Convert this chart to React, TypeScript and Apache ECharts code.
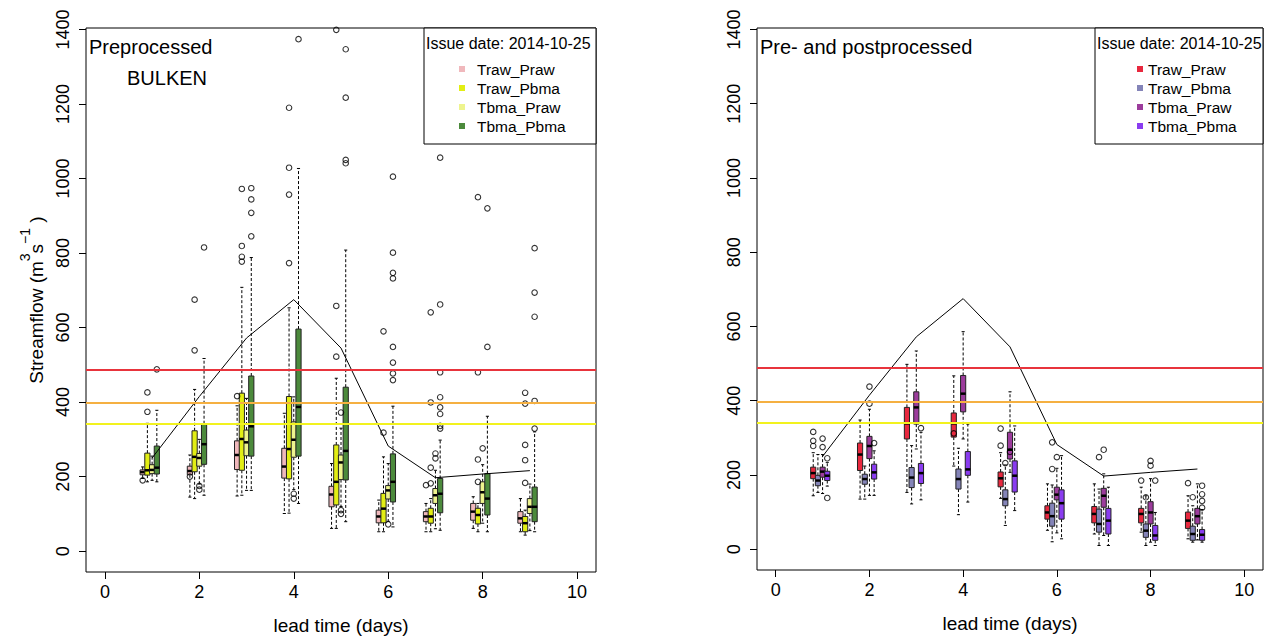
import React, { useEffect, useRef } from "react";
import * as echarts from "echarts";

// ---------- DATA ----------
const DAYS = [1, 2, 3, 4, 5, 6, 7, 8, 9];
const OFFSETS = [-0.2, -0.1, 0, 0.1];
const X_TICKS = [0, 2, 4, 6, 8, 10];
const Y_TICKS = [0, 200, 400, 600, 800, 1000, 1200, 1400];
const SERIES_NAMES = ["Traw_Praw", "Traw_Pbma", "Tbma_Praw", "Tbma_Pbma"];
const OBS = [250, 415, 572, 675, 545, 282, 197, 207, 216];
const THRESHOLDS = [488, 398, 341];

// [lower whisker, Q1, median, Q3, upper whisker] per lead day
const PRE_TRAW_PRAW = [
  [195, 205, 212, 218, 226],
  [145, 205, 215, 228, 258],
  [148, 219, 258, 296, 390],
  [101, 196, 227, 276, 370],
  [61, 119, 152, 174, 235],
  [52, 76, 93, 110, 137],
  [52, 79, 93, 106, 128],
  [61, 83, 106, 128, 146],
  [52, 75, 88, 106, 141],
];
const PRE_TRAW_PBMA = [
  [186, 204, 217, 263, 343],
  [141, 213, 253, 323, 434],
  [150, 217, 301, 424, 708],
  [102, 194, 274, 415, 653],
  [61, 124, 186, 285, 464],
  [52, 76, 114, 155, 253],
  [52, 75, 93, 115, 141],
  [52, 73, 97, 115, 128],
  [43, 52, 75, 93, 110],
];
const PRE_TBMA_PRAW = [
  [190, 208, 218, 232, 255],
  [180, 228, 250, 262, 300],
  [163, 256, 292, 325, 410],
  [165, 252, 299, 347, 414],
  [120, 192, 238, 258, 330],
  [80, 140, 163, 176, 235],
  [60, 128, 150, 168, 217],
  [75, 128, 158, 186, 232],
  [55, 101, 119, 141, 180],
];
const PRE_TBMA_PBMA = [
  [186, 207, 224, 282, 378],
  [150, 233, 287, 342, 517],
  [163, 255, 335, 470, 788],
  [128, 255, 387, 596, 1027],
  [79, 191, 269, 440, 808],
  [65, 132, 186, 261, 389],
  [56, 103, 154, 195, 298],
  [52, 97, 141, 208, 362],
  [52, 79, 119, 172, 320],
];
// outliers per lead day
const PRE_OUT_TRAW_PRAW = [[190], [200], [416], [], [], [], [177], [], []];
const PRE_OUT_TRAW_PBMA = [
  [374, 426],
  [539, 675],
  [777, 790, 819, 972],
  [773, 957, 1029, 1190],
  [522, 658, 1399],
  [318, 590],
  [182, 224, 399, 641],
  [186, 246, 480, 950],
  [183, 244, 285, 396, 425],
];
const PRE_OUT_TBMA_PRAW = [[], [175, 165], [], [141, 154], [372, 110, 100], [72], [249, 262], [276], []];
const PRE_OUT_TBMA_PBMA = [
  [488],
  [815],
  [845, 908, 944, 974],
  [1374],
  [1041, 1050, 1217, 1347],
  [459, 477, 506, 548, 732, 747, 801, 1005],
  [329, 336, 368, 386, 413, 480, 662, 1056],
  [548, 920],
  [329, 403, 629, 694, 813],
];

const POST_TRAW_PRAW = [
  [144, 190, 205, 221, 260],
  [135, 212, 255, 286, 348],
  [153, 297, 339, 382, 498],
  [224, 302, 339, 367, 467],
  [137, 168, 191, 208, 260],
  [51, 81, 99, 117, 176],
  [41, 71, 95, 115, 176],
  [46, 71, 95, 110, 167],
  [28, 56, 77, 100, 144],
];
const POST_TRAW_PBMA = [
  [153, 171, 185, 199, 255],
  [135, 175, 189, 202, 224],
  [122, 166, 193, 220, 279],
  [93, 162, 189, 216, 272],
  [64, 117, 135, 160, 227],
  [20, 62, 89, 124, 173],
  [10, 46, 68, 108, 162],
  [10, 32, 50, 68, 144],
  [19, 24, 41, 62, 117],
];
const POST_TBMA_PRAW = [
  [150, 194, 209, 221, 255],
  [145, 244, 278, 304, 377],
  [270, 337, 382, 424, 534],
  [297, 370, 419, 468, 586],
  [207, 243, 268, 315, 424],
  [44, 133, 147, 167, 218],
  [37, 113, 144, 164, 203],
  [19, 68, 99, 128, 190],
  [25, 68, 89, 110, 176],
];
const POST_TBMA_PBMA = [
  [170, 185, 198, 210, 234],
  [145, 189, 207, 229, 265],
  [133, 177, 205, 231, 315],
  [127, 199, 215, 263, 337],
  [104, 154, 198, 238, 332],
  [28, 81, 124, 160, 252],
  [10, 41, 77, 110, 167],
  [10, 24, 37, 64, 99],
  [19, 24, 39, 53, 107],
];
const POST_OUT_TRAW_PRAW = [[278, 292, 316], [], [], [312], [279, 325], [], [], [185], [178]];
const POST_OUT_TRAW_PBMA = [[], [], [], [], [232], [216, 288], [248], [140], [140]];
const POST_OUT_TBMA_PRAW = [[275, 298], [392, 438], [], [], [262], [248], [268], [225, 238], []];
const POST_OUT_TBMA_PBMA = [[138, 245], [286], [326], [], [], [], [], [185], [112, 130, 148, 171]];

// ---------- STYLE ----------
const FONT = "'Liberation Sans', Arial, Helvetica, sans-serif";
const PRE_COLORS = ["#f0b8bc", "#e2ee14", "#eef48e", "#4c8a3c"];
const POST_COLORS = ["#e8283e", "#8484b8", "#9c3c9c", "#8a3cf0"];
const THRESH_COLORS = ["#e8343c", "#f5b041", "#f2f21e"];

function boxSeries(color: string, stats: number[][], offset: number, axis: number) {
  return {
    type: "custom",
    xAxisIndex: axis,
    yAxisIndex: axis,
    data: stats.map((s, i) => [DAYS[i] + offset, ...s]),
    encode: { x: 0, y: [1, 2, 3, 4, 5] },
    z: 2,
    renderItem: (params: any, api: any) => {
      const x = api.value(0);
      const pLw = api.coord([x, api.value(1)]);
      const cx = pLw[0];
      const yLw = pLw[1];
      const yQ1 = api.coord([x, api.value(2)])[1];
      const yMed = api.coord([x, api.value(3)])[1];
      const yQ3 = api.coord([x, api.value(4)])[1];
      const yUw = api.coord([x, api.value(5)])[1];
      const w = api.size([0.1, 0])[0] * 1.1;
      const hw = w / 2;
      const cap = hw * 0.6;
      const dashed = { stroke: "#000", lineWidth: 1, lineDash: [3, 2] };
      const solid = { stroke: "#000", lineWidth: 1 };
      return {
        type: "group",
        children: [
          { type: "line", shape: { x1: cx, y1: yQ3, x2: cx, y2: yUw }, style: dashed },
          { type: "line", shape: { x1: cx, y1: yQ1, x2: cx, y2: yLw }, style: dashed },
          { type: "line", shape: { x1: cx - cap, y1: yUw, x2: cx + cap, y2: yUw }, style: solid },
          { type: "line", shape: { x1: cx - cap, y1: yLw, x2: cx + cap, y2: yLw }, style: solid },
          {
            type: "rect",
            shape: { x: cx - hw, y: yQ3, width: w, height: yQ1 - yQ3 },
            style: { fill: color, stroke: "#222", lineWidth: 1 },
          },
          {
            type: "line",
            shape: { x1: cx - hw, y1: yMed, x2: cx + hw, y2: yMed },
            style: { stroke: "#000", lineWidth: 2.5 },
          },
        ],
      };
    },
  };
}

function outlierSeries(out: number[][], offset: number, axis: number) {
  const data: number[][] = [];
  out.forEach((vals, i) => vals.forEach((v) => data.push([DAYS[i] + offset, v])));
  return {
    type: "scatter",
    xAxisIndex: axis,
    yAxisIndex: axis,
    data,
    symbol: "circle",
    symbolSize: 5.5,
    itemStyle: { color: "rgba(0,0,0,0)", borderColor: "#000", borderWidth: 1.1 },
    z: 3,
  };
}

function obsSeries(axis: number) {
  return {
    type: "line",
    xAxisIndex: axis,
    yAxisIndex: axis,
    data: DAYS.map((d, i) => [d, OBS[i]]),
    symbol: "none",
    lineStyle: { color: "#000", width: 1 },
    z: 4,
    markLine: {
      silent: true,
      symbol: ["none", "none"],
      label: { show: false },
      data: THRESHOLDS.map((v, i) => ({
        yAxis: v,
        lineStyle: { color: THRESH_COLORS[i], width: 2, type: "solid" },
      })),
    },
  };
}

function xAxis(grid: number) {
  return {
    gridIndex: grid,
    type: "value",
    min: -0.4,
    max: 10.4,
    splitLine: { show: false },
    axisLine: { show: false, onZero: false },
    axisTick: { show: true, length: 7, customValues: X_TICKS, lineStyle: { color: "#000" } },
    axisLabel: {
      customValues: X_TICKS,
      fontSize: 18,
      color: "#000",
      fontFamily: FONT,
      margin: 11,
      formatter: (v: number) => String(v),
    },
    name: "lead time (days)",
    nameLocation: "middle",
    nameGap: 44,
    nameTextStyle: { fontSize: 19, color: "#000", fontFamily: FONT },
  };
}

function yAxis(grid: number) {
  return {
    gridIndex: grid,
    type: "value",
    min: -56,
    max: 1404,
    splitLine: { show: false },
    axisLine: { show: false, onZero: false },
    axisTick: { show: true, length: 7, customValues: Y_TICKS, lineStyle: { color: "#000" } },
    axisLabel: {
      customValues: Y_TICKS,
      rotate: 90,
      fontSize: 18,
      color: "#000",
      fontFamily: FONT,
      margin: 14,
      formatter: (v: number) => String(v),
    },
  };
}

function legendGraphic(x: number, y: number, w: number, h: number, colors: string[], markX: number, textX: number) {
  const items: any[] = [
    { type: "rect", shape: { x, y, width: w, height: h }, style: { fill: "#fff", stroke: "#000", lineWidth: 1 }, z: 10 },
    {
      type: "text",
      x: x + 2,
      y: y + 15,
      style: { text: "Issue date: 2014-10-25", fontSize: 16, fontFamily: FONT, fill: "#000", align: "left", verticalAlign: "middle" },
      z: 11,
    },
  ];
  const rows = [41, 60, 79, 98];
  SERIES_NAMES.forEach((n, i) => {
    items.push({
      type: "rect",
      shape: { x: markX - 3, y: y + rows[i] - 3, width: 6, height: 6 },
      style: { fill: colors[i] },
      z: 11,
    });
    items.push({
      type: "text",
      x: textX,
      y: y + rows[i],
      style: { text: n, fontSize: 15.5, fontFamily: FONT, fill: "#000", align: "left", verticalAlign: "middle" },
      z: 11,
    });
  });
  return items;
}

export default function App() {
  const ref = useRef<HTMLDivElement>(null);
  useEffect(() => {
    if (!ref.current) return;
    const chart = echarts.init(ref.current, undefined, { renderer: "svg" });
    const preStats = [PRE_TRAW_PRAW, PRE_TRAW_PBMA, PRE_TBMA_PRAW, PRE_TBMA_PBMA];
    const preOut = [PRE_OUT_TRAW_PRAW, PRE_OUT_TRAW_PBMA, PRE_OUT_TBMA_PRAW, PRE_OUT_TBMA_PBMA];
    const postStats = [POST_TRAW_PRAW, POST_TRAW_PBMA, POST_TBMA_PRAW, POST_TBMA_PBMA];
    const postOut = [POST_OUT_TRAW_PRAW, POST_OUT_TRAW_PBMA, POST_OUT_TBMA_PRAW, POST_OUT_TBMA_PBMA];
    const series: any[] = [];
    [0, 1].forEach((axis) => {
      series.push(obsSeries(axis));
      const stats = axis === 0 ? preStats : postStats;
      const outs = axis === 0 ? preOut : postOut;
      const colors = axis === 0 ? PRE_COLORS : POST_COLORS;
      stats.forEach((s, k) => {
        series.push(boxSeries(colors[k], s, OFFSETS[k], axis));
        series.push(outlierSeries(outs[k], OFFSETS[k], axis));
      });
    });
    const option: any = {
      animation: false,
      backgroundColor: "#fff",
      textStyle: { fontFamily: FONT },
      grid: [
        { left: 86, top: 28, width: 510, height: 544, show: true, borderColor: "#000", borderWidth: 1, backgroundColor: "transparent" },
        { left: 757, top: 28, width: 506, height: 542, show: true, borderColor: "#000", borderWidth: 1, backgroundColor: "transparent" },
      ],
      xAxis: [xAxis(0), xAxis(1)],
      yAxis: [yAxis(0), yAxis(1)],
      series,
      graphic: [
        ...legendGraphic(424, 28, 172, 116, PRE_COLORS, 462, 477),
        ...legendGraphic(1095, 28, 168, 116, POST_COLORS, 1140, 1148),
        {
          type: "text",
          x: 89,
          y: 47,
          style: { text: "Preprocessed", fontSize: 20, fontFamily: FONT, fill: "#000", align: "left", verticalAlign: "middle" },
        },
        {
          type: "text",
          x: 127,
          y: 78,
          style: { text: "BULKEN", fontSize: 20, fontFamily: FONT, fill: "#000", align: "left", verticalAlign: "middle" },
        },
        {
          type: "text",
          x: 760,
          y: 47,
          style: { text: "Pre- and postprocessed", fontSize: 20, fontFamily: FONT, fill: "#000", align: "left", verticalAlign: "middle" },
        },
        {
          type: "text",
          x: 32,
          y: 300,
          rotation: Math.PI / 2,
          style: {
            text: "{n|Streamflow (m}{s|3}{n|s}{s|\u22121}{n| )}",
            fontFamily: FONT,
            fill: "#000",
            align: "center",
            verticalAlign: "middle",
            rich: {
              n: { fontSize: 19, fontFamily: FONT, lineHeight: 28, verticalAlign: "bottom" },
              s: { fontSize: 14, fontFamily: FONT, lineHeight: 16, verticalAlign: "top" },
            },
          },
        },
      ],
    };
    chart.setOption(option);
    return () => chart.dispose();
  }, []);
  return (
    <div
      ref={ref}
      style={{ position: "fixed", left: 0, top: 0, width: 1267, height: 640, background: "#fff" }}
    />
  );
}
